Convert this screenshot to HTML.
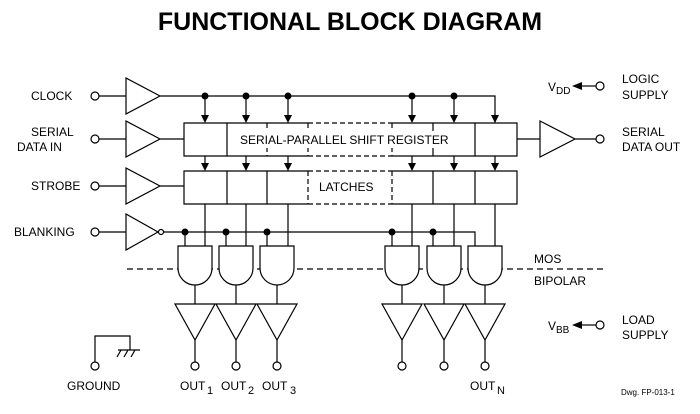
<!DOCTYPE html>
<html><head><style>
body{margin:0;background:#fff;}
svg{display:block;font-family:"Liberation Sans",Arial,sans-serif;}
</style></head><body>
<svg width="700" height="414" viewBox="0 0 700 414" xmlns="http://www.w3.org/2000/svg">
<text x="350" y="30" text-anchor="middle" font-size="25" font-weight="bold">FUNCTIONAL BLOCK DIAGRAM</text>
<g stroke="#000" stroke-width="1.2" fill="none">
<!-- input circles -->
<circle cx="95" cy="96" r="4"/><circle cx="95" cy="139" r="4"/><circle cx="95" cy="186" r="4"/><circle cx="95" cy="232" r="4"/>
<path d="M99 96H126M99 139H126M99 186H126M99 232H126"/>
<path d="M126 78L160 96L126 114Z M126 121L160 139L126 157Z M126 168L160 186L126 204Z M126 214L158 232L126 250Z"/>
<circle cx="161" cy="232" r="2.5"/>
<path d="M160 96H495V123 M160 139H184 M160 186H184 M164 232H475V246"/>
<path d="M205 96V118M246 96V118M288 96V118M412 96V118M454 96V118"/>
<!-- register -->
<path d="M308 123H184V156H308 M392 123H517V156H392 M227 123V156 M433 123V156 M475 123V156"/>
<path d="M308 123H392M308 156H392M267 123V156M308 123V156M392 123V156" stroke-dasharray="5,3"/>
<!-- latches -->
<path d="M308 171H184V204H308 M392 171H517V204H392 M227 171V204 M267 171V204 M433 171V204 M475 171V204"/>
<path d="M308 171H392M308 204H392M308 171V204M392 171V204" stroke-dasharray="5,3"/>
<path d="M205 156V165M246 156V165M288 156V165M412 156V165M454 156V165M495 156V165"/>
<path d="M205 204V246M246 204V246M288 204V246M412 204V246M454 204V246M495 204V246"/>
<path d="M185 232V246M226 232V246M267 232V246M392 232V246M433 232V246"/>
<path d="M517 139H540 M540 121L575 139L540 157Z M575 139H596"/>
<circle cx="600" cy="139" r="4"/>
<circle cx="600" cy="86" r="4"/><path d="M596 86H580"/>
<circle cx="600" cy="325" r="4"/><path d="M596 325H580"/>
<path d="M127 269H605" stroke-dasharray="6,4"/>
<g fill="#fff">
<path d="M178 246V268A17 17 0 0 0 212 268V246Z"/>
<path d="M219 246V268A17 17 0 0 0 253 268V246Z"/>
<path d="M260 246V268A17 17 0 0 0 294 268V246Z"/>
<path d="M385 246V268A17 17 0 0 0 419 268V246Z"/>
<path d="M427 246V268A17 17 0 0 0 461 268V246Z"/>
<path d="M468 246V268A17 17 0 0 0 502 268V246Z"/>
</g>
<path d="M195 285V304M236 285V304M277 285V304M402 285V304M444 285V304M485 285V304"/>
<path d="M175 304H215L195 340Z M216 304H256L236 340Z M257 304H297L277 340Z M382 304H422L402 340Z M424 304H464L444 340Z M465 304H505L485 340Z"/>
<path d="M195 340V362M236 340V362M277 340V362M402 340V362M444 340V362M485 340V362"/>
<circle cx="195" cy="366" r="4"/><circle cx="236" cy="366" r="4"/><circle cx="277" cy="366" r="4"/>
<circle cx="402" cy="366" r="4"/><circle cx="444" cy="366" r="4"/><circle cx="485" cy="366" r="4"/>
<path d="M95 362V336H130V350 M118 350H140 M121 350L117 357 M128 350L124 357 M135 350L131 357"/>
<circle cx="95" cy="366" r="4"/>
</g>
<rect x="237" y="131" width="226" height="17" fill="#fff"/>
<rect x="316" y="179" width="64" height="17" fill="#fff"/>
<g font-size="12">
<text x="31" y="100">CLOCK</text>
<text x="31" y="136">SERIAL</text>
<text x="17" y="151">DATA IN</text>
<text x="31" y="190">STROBE</text>
<text x="14" y="236">BLANKING</text>
<text x="622" y="83">LOGIC</text>
<text x="622" y="99">SUPPLY</text>
<text x="622" y="136">SERIAL</text>
<text x="622" y="151">DATA OUT</text>
<text x="622" y="324">LOAD</text>
<text x="622" y="339">SUPPLY</text>
<text x="534" y="263">MOS</text>
<text x="534" y="285">BIPOLAR</text>
<text x="67" y="390">GROUND</text>
<text x="180" y="390">OUT</text><text x="207" y="394" font-size="11">1</text>
<text x="221" y="390">OUT</text><text x="248" y="394" font-size="11">2</text>
<text x="262" y="390">OUT</text><text x="290" y="394" font-size="11">3</text>
<text x="470" y="390">OUT</text><text x="497" y="394" font-size="11">N</text>
<text x="548" y="91">V</text><text x="556" y="94" font-size="10">DD</text>
<text x="548" y="330">V</text><text x="556" y="333" font-size="10">BB</text>
<text x="240" y="144">SERIAL-PARALLEL SHIFT REGISTER</text>
<text x="319" y="191">LATCHES</text>
</g>
<text x="621" y="395" font-size="8">Dwg. FP-013-1</text>
<g fill="#000">
<circle cx="205" cy="96" r="3.5"/><circle cx="246" cy="96" r="3.5"/><circle cx="288" cy="96" r="3.5"/><circle cx="412" cy="96" r="3.5"/><circle cx="454" cy="96" r="3.5"/>
<circle cx="185" cy="232" r="3.5"/><circle cx="226" cy="232" r="3.5"/><circle cx="267" cy="232" r="3.5"/><circle cx="392" cy="232" r="3.5"/><circle cx="433" cy="232" r="3.5"/>
<path d="M201 115H209L205 123Z M242 115H250L246 123Z M284 115H292L288 123Z M408 115H416L412 123Z M450 115H458L454 123Z M491 115H499L495 123Z"/>
<path d="M201 163H209L205 171Z M242 163H250L246 171Z M284 163H292L288 171Z M408 163H416L412 171Z M450 163H458L454 171Z M491 163H499L495 171Z"/>
<path d="M572 86L582 82V90Z M572 325L582 321V329Z"/>
</g>
</svg>
</body></html>
